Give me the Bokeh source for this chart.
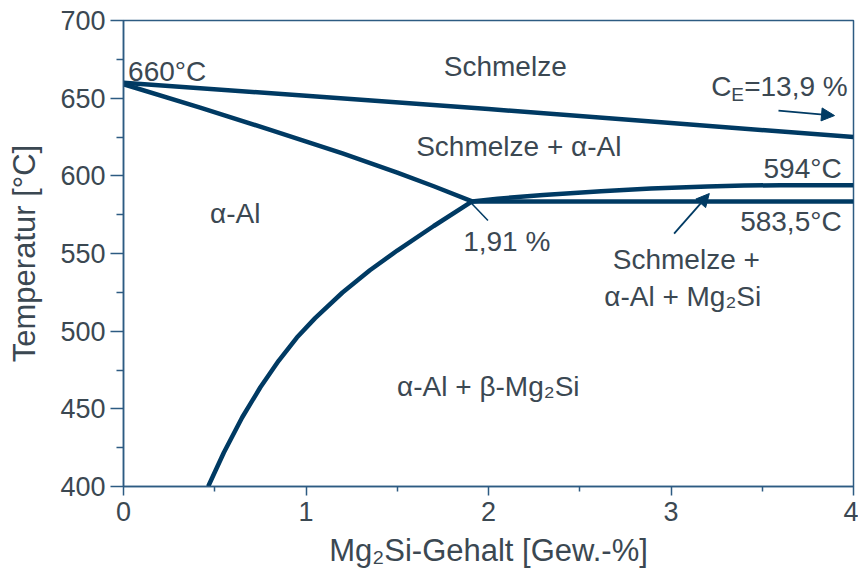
from bokeh.plotting import figure
from bokeh.models import Arrow, NormalHead, FixedTicker
from bokeh.core.properties import value
from bokeh.embed import file_html
from bokeh.resources import INLINE

# Liquidus (Schmelze / Schmelze + α-Al)
liq_x = [0, 1, 2, 3, 4]
liq_t = [660, 651.5, 643, 634, 625]
# Solidus of α-Al
sol_x = [0, 0.42, 0.8, 1.2, 1.5, 1.7, 1.91]
sol_t = [659, 643.9, 629.8, 614.4, 602.1, 593.3, 583.5]
# Solvus (Mg2Si in α-Al)
solv_x = [0.464, 0.55, 0.65, 0.75, 0.85, 0.95, 1.05, 1.2, 1.35, 1.5, 1.7, 1.91]
solv_t = [400, 421.9, 444.4, 463.9, 480.9, 495.9, 508.4, 524.9, 539.2, 551.9, 567.7, 583.5]
# Upper boundary of three-phase field (to 594 °C)
eut_x = [1.91, 2.05, 2.3, 2.617, 2.89, 3.2, 3.4, 3.6, 4]
eut_t = [583.5, 585.3, 587.6, 590.0, 591.8, 593.2, 593.7, 594, 594]
# Eutectic horizontal at 583.5 °C
hor_x = [1.91, 4]
hor_t = [583.5, 583.5]

x_ticks = [0, 1, 2, 3, 4]
y_ticks = [400, 450, 500, 550, 600, 650, 700]

LINE = "#003a63"
AXIS = "#2d5b82"
TEXT = "#3b4852"
FONT = "Liberation Sans"

p = figure(width=858, height=574, output_backend="svg", toolbar_location=None,
           x_range=(0, 4), y_range=(400, 700),
           min_border_left=123, min_border_right=5, min_border_top=20, min_border_bottom=88)
p.grid.visible = False
p.outline_line_color = AXIS
p.outline_line_width = 1.5
p.background_fill_color = "white"
p.border_fill_color = "white"

for ax in (p.xaxis[0], p.yaxis[0]):
    ax.axis_line_color = AXIS
    ax.axis_line_width = 1.5
    ax.major_tick_line_color = AXIS
    ax.minor_tick_line_color = AXIS
    ax.major_tick_line_width = 1.5
    ax.minor_tick_line_width = 1.5
    ax.major_tick_in = 0
    ax.minor_tick_in = 0
    ax.major_label_text_font = FONT
    ax.major_label_text_font_size = "27px"
    ax.major_label_text_color = TEXT
    ax.axis_label_text_font = FONT
    ax.axis_label_text_font_size = "31px"
    ax.axis_label_text_color = TEXT
    ax.axis_label_text_font_style = "normal"

p.xaxis.ticker = FixedTicker(ticks=x_ticks, minor_ticks=[0.5, 1.5, 2.5, 3.5])
p.yaxis.ticker = FixedTicker(ticks=y_ticks, minor_ticks=[425, 475, 525, 575, 625, 675])
p.xaxis.major_tick_out = 9
p.xaxis.minor_tick_out = 5
p.yaxis.major_tick_out = 13
p.yaxis.minor_tick_out = 7
p.xaxis.major_label_standoff = 6
p.yaxis.major_label_standoff = 5
p.xaxis.axis_label = "Mg\u2082Si-Gehalt [Gew.-%]"
p.yaxis.axis_label = "Temperatur [°C]"
p.xaxis.axis_label_standoff = 9
p.yaxis.axis_label_standoff = 15

for xs, ts in ((liq_x, liq_t), (sol_x, sol_t), (solv_x, solv_t), (eut_x, eut_t), (hor_x, hor_t)):
    p.line(xs, ts, line_color=LINE, line_width=4.5, line_join="round")

# leader line at 1,91 %
p.line([1.892, 1.997], [584.1, 571.2], line_color=LINE, line_width=1.5)

for xs, ys, xe, ye in ((3.589, 642.0, 3.896, 638.8), (3.017, 562.8, 3.210, 588.6)):
    p.add_layout(Arrow(end=NormalHead(size=13, fill_color=LINE, line_color=LINE, line_width=1),
                       x_start=xs, y_start=ys, x_end=xe, y_end=ye,
                       line_color=LINE, line_width=1.8))

def txt(x, y, s, align="left", size="28px", xo=0, yo=0):
    p.text(x=[x], y=[y], text=[s], text_font=value(FONT), text_font_size=size,
           text_color=TEXT, text_align=align, text_baseline="alphabetic",
           x_offset=xo, y_offset=yo - 9)

txt(0.025, 661.4, "660°C")
txt(1.755, 664.6, "Schmelze")
txt(3.22, 651.7, "C")
txt(3.22, 651.7, "E", size="19px", xo=20, yo=8)
txt(3.22, 651.7, "=13,9 %", xo=33)
txt(2.166, 613.0, "Schmelze + α-Al", align="center")
txt(3.935, 599.0, "594°C", align="right")
txt(3.935, 564.8, "583,5°C", align="right")
txt(0.612, 570.0, "α-Al", align="center")
txt(2.10, 551.9, "1,91 %", align="center")
txt(3.084, 540.3, "Schmelze +", align="center")
txt(3.064, 516.5, "α-Al + Mg\u2082Si", align="center")
txt(1.999, 458.5, "α-Al + β-Mg\u2082Si", align="center")

open("out.html", "w").write(file_html(p, INLINE))
